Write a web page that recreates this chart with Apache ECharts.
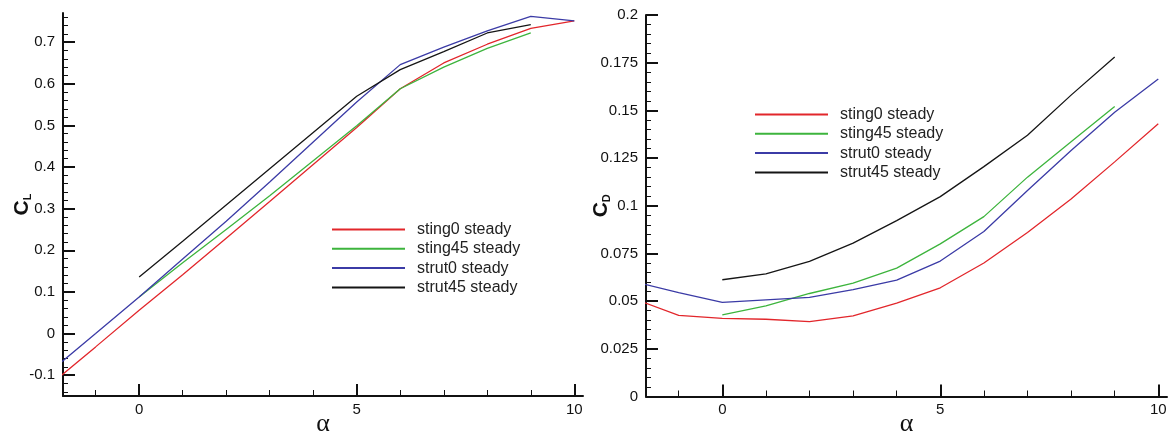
<!DOCTYPE html>
<html>
<head>
<meta charset="utf-8">
<script src="https://cdn.jsdelivr.net/npm/echarts@6/dist/echarts.min.js"></script>
<style>
html,body{margin:0;padding:0;background:#fff;}
#chart{width:1172px;height:440px;}
</style>
</head>
<body>
<div id="chart"></div>
<script>
// ---- data ----
const seriesNames = ['sting0 steady', 'sting45 steady', 'strut0 steady', 'strut45 steady'];
const alphaFull = [-2, -1, 0, 1, 2, 3, 4, 5, 6, 7, 8, 9, 10];
const alphaShort = [0, 1, 2, 3, 4, 5, 6, 7, 8, 9];

// lift coefficient C_L
const clSting0  = [-0.119, -0.032, 0.056, 0.141, 0.229, 0.317, 0.406, 0.495, 0.588, 0.650, 0.695, 0.733, 0.751];
const clSting45 = [0.088, 0.170, 0.250, 0.331, 0.415, 0.499, 0.588, 0.640, 0.685, 0.722];
const clStrut0  = [-0.087, 0.000, 0.088, 0.179, 0.270, 0.364, 0.460, 0.556, 0.646, 0.688, 0.727, 0.762, 0.751];
const clStrut45 = [0.136, 0.222, 0.309, 0.396, 0.483, 0.570, 0.634, 0.677, 0.722, 0.742];

// drag coefficient C_D
const cdSting0  = [0.0510, 0.0425, 0.0410, 0.0405, 0.0393, 0.0423, 0.0490, 0.0570, 0.0700, 0.0860, 0.1035, 0.1230, 0.1430];
const cdSting45 = [0.0428, 0.0475, 0.0540, 0.0594, 0.0673, 0.0800, 0.0943, 0.1150, 0.1335, 0.1520];
const cdStrut0  = [0.0600, 0.0545, 0.0493, 0.0507, 0.0520, 0.0560, 0.0610, 0.0710, 0.0865, 0.1080, 0.1290, 0.1490, 0.1665];
const cdStrut45 = [0.0612, 0.0643, 0.0708, 0.0804, 0.0922, 0.1048, 0.1205, 0.1370, 0.1580, 0.1780];

// tick labels
const xMajor = [0, 5, 10];
const xMinor = [-1, 1, 2, 3, 4, 6, 7, 8, 9];
const clMajor = [-0.1, 0, 0.1, 0.2, 0.3, 0.4, 0.5, 0.6, 0.7];
const cdMajor = [0, 0.025, 0.05, 0.075, 0.1, 0.125, 0.15, 0.175, 0.2];

// ---- build ----
function minorTicks(lo, hi, step, majors) {
  const out = [];
  const n = Math.round((hi - lo) / step);
  for (let i = 0; i <= n; i++) {
    const v = +(lo + i * step).toFixed(4);
    if (!majors.some(m => Math.abs(m - v) < 1e-9)) out.push(v);
  }
  return out;
}
const clMinor = minorTicks(-0.14, 0.76, 0.02, clMajor);
const cdMinor = minorTicks(0.005, 0.195, 0.005, cdMajor);

const colors = ['#e2262b', '#3db43d', '#3b3ba6', '#151515'];
const FONT = "'Liberation Sans', Arial, sans-serif";
const zip = (xs, ys) => xs.map((x, i) => [x, ys[i]]);

const g0 = {left: 63, top: 13, width: 520, height: 383, outerBoundsMode: 'none', containLabel: false};
const g1 = {left: 646, top: 15, width: 521, height: 381.5, outerBoundsMode: 'none', containLabel: false};
// grids 2 and 3 overlay 0 and 1 and only carry the minor ticks
const grids = [g0, g1, Object.assign({}, g0), Object.assign({}, g1)];

const XMIN = -1.75, XMAX = 10.2;

function majorX(gi) {
  return {
    type: 'value', gridIndex: gi, min: XMIN, max: XMAX, position: 'bottom', splitLine: {show: false},
    axisLine: {show: true, onZero: false, lineStyle: {color: '#111', width: 2}},
    axisTick: {show: true, inside: true, length: 12, customValues: xMajor, lineStyle: {color: '#111', width: 2}},
    axisLabel: {show: true, customValues: xMajor, margin: 6, color: '#111', fontSize: 15, fontFamily: FONT},
    name: 'α', nameLocation: 'middle', nameGap: 15, nameMoveOverlap: false,
    nameTextStyle: {fontFamily: "'Liberation Serif', 'DejaVu Serif', serif", fontSize: 26, color: '#111'}
  };
}
function minorX(gi) {
  return {
    type: 'value', gridIndex: gi, min: XMIN, max: XMAX, position: 'bottom', splitLine: {show: false},
    axisLine: {show: false, onZero: false},
    axisTick: {show: true, inside: true, length: 6, customValues: xMinor, lineStyle: {color: '#111', width: 1}},
    axisLabel: {show: false}
  };
}
function majorY(gi, min, max, majors, sub, gap) {
  return {
    type: 'value', gridIndex: gi, min: min, max: max, position: 'left', splitLine: {show: false},
    axisLine: {show: true, onZero: false, lineStyle: {color: '#111', width: 2}},
    axisTick: {show: true, inside: true, length: 12, customValues: majors, lineStyle: {color: '#111', width: 2}},
    axisLabel: {show: true, customValues: majors, margin: 8, color: '#111', fontSize: 15, fontFamily: FONT,
      formatter: v => String(+v.toFixed(4))},
    name: '{c|C}{s|' + sub + '}', nameLocation: 'middle', nameRotate: 90, nameGap: gap, nameMoveOverlap: false,
    nameTextStyle: {rich: {
      c: {fontFamily: FONT, fontWeight: 'bold', fontSize: 21, color: '#111', verticalAlign: 'bottom'},
      s: {fontFamily: FONT, fontWeight: 'bold', fontSize: 11, color: '#111', verticalAlign: 'bottom'}
    }}
  };
}
function minorY(gi, min, max, minors) {
  return {
    type: 'value', gridIndex: gi, min: min, max: max, position: 'left', splitLine: {show: false},
    axisLine: {show: false, onZero: false},
    axisTick: {show: true, inside: true, length: 5, customValues: minors, lineStyle: {color: '#111', width: 1}},
    axisLabel: {show: false}
  };
}

function line(name, ci, gi, data) {
  return {
    type: 'line', name: name, xAxisIndex: gi, yAxisIndex: gi, data: data,
    showSymbol: false, symbol: 'none', clip: true, animation: false,
    lineStyle: {color: colors[ci], width: 1.3}, itemStyle: {color: colors[ci]}
  };
}

const legendCommon = {
  orient: 'vertical', icon: 'rect', itemWidth: 73, itemHeight: 2, itemGap: 0.3, padding: 0,
  textStyle: {fontFamily: FONT, fontSize: 16, color: '#222', lineHeight: 19, padding: [0, 0, 0, 7]},
  data: seriesNames, selectedMode: false
};

const option = {
  backgroundColor: '#fff',
  animation: false,
  grid: grids,
  legend: [
    Object.assign({}, legendCommon, {left: 332, top: 220}),
    Object.assign({}, legendCommon, {left: 755, top: 105})
  ],
  xAxis: [majorX(0), majorX(1), minorX(2), minorX(3)],
  yAxis: [
    majorY(0, -0.15, 0.77, clMajor, 'L', 30),
    majorY(1, 0, 0.2, cdMajor, 'D', 34),
    minorY(2, -0.15, 0.77, clMinor),
    minorY(3, 0, 0.2, cdMinor)
  ],
  series: [
    line(seriesNames[0], 0, 0, zip(alphaFull, clSting0)),
    line(seriesNames[1], 1, 0, zip(alphaShort, clSting45)),
    line(seriesNames[2], 2, 0, zip(alphaFull, clStrut0)),
    line(seriesNames[3], 3, 0, zip(alphaShort, clStrut45)),
    line(seriesNames[0], 0, 1, zip(alphaFull, cdSting0)),
    line(seriesNames[1], 1, 1, zip(alphaShort, cdSting45)),
    line(seriesNames[2], 2, 1, zip(alphaFull, cdStrut0)),
    line(seriesNames[3], 3, 1, zip(alphaShort, cdStrut45))
  ]
};

const chart = echarts.init(document.getElementById('chart'), null, {renderer: 'canvas'});
chart.setOption(option);
</script>
</body>
</html>
